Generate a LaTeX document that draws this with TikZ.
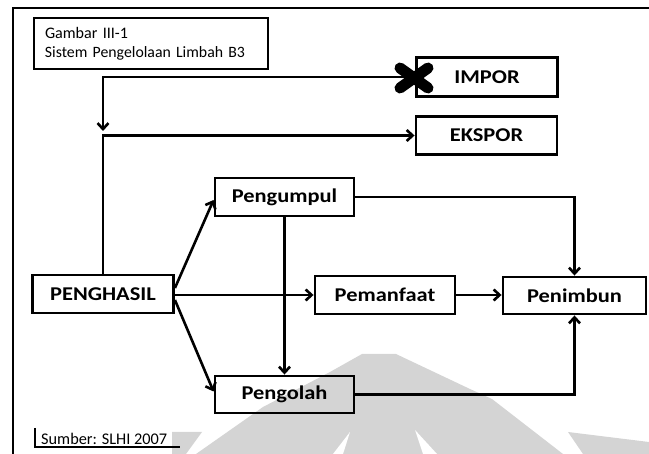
\documentclass[tikz,border=0pt]{standalone}
\usepackage{fontspec}
\usepackage{graphicx}
\setmainfont{Carlito}[FakeStretch=1.15]
\newfontfamily\notefont{Carlito}
\usetikzlibrary{arrows.meta}
\definecolor{wm}{RGB}{212,212,212}
% a line of caption text set to a fixed width
\newcommand{\fitline}[2]{\resizebox{#1}{!}{\notefont\fontsize{14}{16}\selectfont #2}}
\begin{document}
\begin{tikzpicture}[x=1pt,y=-1pt,
  box/.style={draw, line width=2.9pt, inner sep=0pt,
    font=\bfseries\fontsize{19.5}{22}\selectfont,
    minimum width=141pt, minimum height=38pt},
  titlebox/.style={draw, line width=1.7pt, inner xsep=11pt, inner ysep=0pt,
    text width=212pt, align=left, minimum height=51pt,
    font=\fontsize{14}{19}\selectfont},
  link/.style={line width=2.6pt},
  flow/.style={link, -{Straight Barb[length=6pt,width=11pt]}},
  frameline/.style={line width=2.9pt},
  bracket/.style={line width=1.5pt},
  ban/.style={line width=11pt, line cap=round}]
\useasboundingbox (0,0) rectangle (649,454);

% faint logo in the lower half
\fill[wm] (196,454) -- (263,407) -- (330,372) -- (362,354) -- (396,354)
  -- (470,389) -- (492,399) -- (563,454) -- cycle;
\fill[wm] (568,432) -- (649,442) -- (649,454) -- (583,454) -- cycle;
\fill[wm] (172,432) -- (202,432) -- (186,454) -- (172,454) -- cycle;
\fill[white] (350,432) -- (343,454) -- (333,454) -- cycle;
\fill[white] (415,430) -- (437,454) -- (423,454) -- cycle;

% page frame
\draw[frameline] (13,456) -- (13,8) -- (652,8);

% caption
\node[titlebox] (title) at (151,43.5)
  {\fitline{83pt}{Gambar III-1}\\\fitline{200pt}{Sistem Pengelolaan Limbah B3}};

% actors
\node[box] (penghasil) at (103,294) {PENGHASIL};
\node[box, minimum width=139pt] (pengumpul) at (284.5,197) {Pengumpul};
\node[box, minimum width=140pt] (pemanfaat) at (385,295) {Pemanfaat};
\node[box, minimum width=143pt, minimum height=37pt] (penimbun) at (574.5,295.5) {Penimbun};
\node[box, minimum width=139pt, minimum height=37pt] (pengolah) at (284.5,394.5) {Pengolah};
\node[box, minimum height=39pt] (impor) at (487,77) {IMPOR};
\node[box] (ekspor) at (486.5,135.5) {EKSPOR};

% import and export routes
\coordinate (drop) at (103,131);
\draw[flow] (impor.west) -| (drop);
\draw[flow] (penghasil.north) |- (ekspor.west);
\draw[ban] (400,68) -- (428,88);
\draw[ban] (428,68) -- (400,88);

% waste flows
\draw[flow] ([yshift=6pt]penghasil.east) -- ([yshift=-3pt]pengumpul.west);
\draw[flow] ([yshift=-6pt]penghasil.east) -- ([yshift=3pt]pengolah.west);
\draw[flow] (penghasil.east |- pemanfaat.west) -- (pemanfaat.west);
\draw[flow] (pemanfaat.east) -- (penimbun.west |- pemanfaat.east);
\draw[flow] (pengumpul.south) -- (pengolah.north);
\draw[flow] (pengumpul.east) -| (penimbun.north);
\draw[flow] (pengolah.east) -| (penimbun.south);

% source note
\node[anchor=base west, inner sep=0pt] (source) at (41,445)
  {\fitline{126pt}{Sumber: SLHI 2007}};
\draw[bracket] ([xshift=-6pt,yshift=17pt]source.base west)
  |- ([xshift=13pt,yshift=-2pt]source.base east);
\end{tikzpicture}
\end{document}
